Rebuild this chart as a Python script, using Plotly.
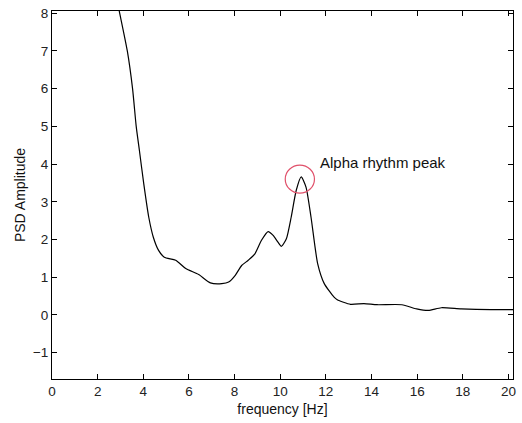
import plotly.graph_objects as go

# Power spectral density of an EEG channel
freq_hz = [2.80, 2.95, 3.30, 3.53, 3.69, 3.83, 4.02, 4.24, 4.44, 4.67, 4.92, 5.42, 5.86, 6.43,
           6.94, 7.44, 7.74, 8.03, 8.31, 8.60, 8.89, 9.18, 9.47, 9.69, 9.90, 10.05, 10.27,
           10.48, 10.70, 10.92, 11.13, 11.35, 11.64, 11.93, 12.36, 12.50, 13.08, 13.67,
           14.24, 15.33, 15.98, 16.49, 17.06, 17.93, 19.23, 20.20]
psd_amp = [8.50, 8.05, 7.00, 6.00, 5.00, 4.36, 3.48, 2.59, 2.06, 1.71, 1.53, 1.45, 1.23, 1.07,
           0.85, 0.83, 0.87, 1.05, 1.31, 1.45, 1.62, 1.98, 2.21, 2.11, 1.93, 1.82, 2.02,
           2.59, 3.30, 3.66, 3.39, 2.59, 1.36, 0.83, 0.47, 0.40, 0.28, 0.30,
           0.27, 0.27, 0.16, 0.12, 0.19, 0.16, 0.14, 0.14]

x_ticks = [0, 2, 4, 6, 8, 10, 12, 14, 16, 18, 20]
y_ticks = [-1, 0, 1, 2, 3, 4, 5, 6, 7, 8]

peak_label = "Alpha rhythm peak"
peak_circle = dict(x0=10.22, x1=11.50, y0=3.23, y1=3.97)

FONT = "Liberation Sans, Arial"

fig = go.Figure()
fig.add_trace(go.Scatter(
    x=freq_hz, y=psd_amp, mode="lines",
    line=dict(color="black", width=1.2, shape="spline", smoothing=0.6),
    showlegend=False,
))

fig.add_shape(type="circle", xref="x", yref="y", **peak_circle,
              line=dict(color="#e0506a", width=1.2))
fig.add_annotation(x=11.64, y=4.05, xref="x", yref="y", text=peak_label,
                   showarrow=False, xanchor="left", yanchor="middle",
                   font=dict(family=FONT, size=15, color="#111"))

axis_common = dict(
    showline=True, linecolor="black", linewidth=1, mirror="ticks",
    ticks="inside", ticklen=5, tickcolor="black", showgrid=False, zeroline=False,
    tickfont=dict(family=FONT, size=13.5, color="#222"),
)
fig.update_xaxes(range=[0, 20.2], tickvals=x_ticks, **axis_common,
                 title=dict(text="frequency [Hz]", standoff=5,
                            font=dict(family=FONT, size=14, color="#111")))
fig.update_yaxes(range=[-1.7, 8.06], tickvals=y_ticks, **axis_common,
                 title=dict(text="PSD Amplitude", standoff=3,
                            font=dict(family=FONT, size=14, color="#111")))

fig.update_layout(
    width=522, height=423,
    margin=dict(l=52, r=6, t=11, b=44),
    paper_bgcolor="white", plot_bgcolor="white",
)

fig.write_html("out.html")
